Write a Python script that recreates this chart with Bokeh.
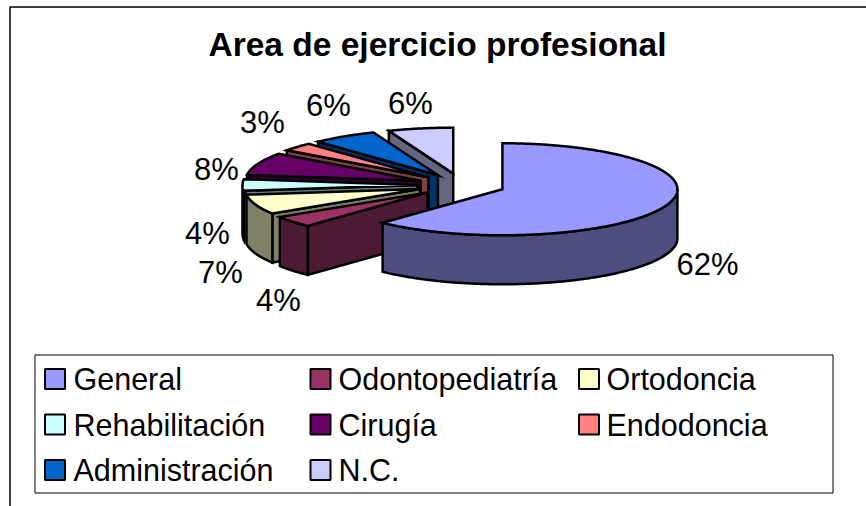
import numpy as np
from bokeh.plotting import figure
from bokeh.models import ColumnDataSource
from bokeh.core.properties import value
from bokeh.embed import file_html
from bokeh.resources import INLINE

TITLE = "Area de ejercicio profesional"
categories = ["General", "Odontopediatría", "Ortodoncia", "Rehabilitación",
              "Cirugía", "Endodoncia", "Administración", "N.C."]
values = [62, 4, 7, 4, 8, 3, 6, 6]
top_colors = ["#9999FF", "#993366", "#FFFFCC", "#CCFFFF",
              "#660066", "#FF8080", "#0066CC", "#CCCCFF"]
wall_colors = ["#4D4D80", "#4D1A33", "#808066", "#668080",
               "#330033", "#804040", "#003366", "#666680"]

W, H = 866, 506
CX, CY, RX, RY = 461.0, 184.5, 175.0, 46.0
EXPLODE, DEPTH = 44.0, 49.0
LABEL_XY = [(707, 264), (278, 300), (220, 272), (207, 233),
            (216, 169), (262, 122), (328, 105), (410, 103)]
LEG_BOX = (34.5, 354.5, 832.5, 492.5)
LEG_COLS = [(54.5, 73), (320, 338), (588.5, 606)]
LEG_ROWS = [378.5, 424, 469.5]

p = figure(width=W, height=H, x_range=(0, W), y_range=(H, 0),
           toolbar_location=None, output_backend="svg", min_border=0,
           outline_line_color=None)
p.axis.visible = False
p.grid.visible = False

# chart frame
p.line([9.5, 9.5, W], [H, 6.5, 6.5], line_color="black", line_width=1.5)

total = sum(values)
edges = np.cumsum([0] + values) / total * 360.0
ell = RY / RX


def arc(ax, ay, a0, a1, drop=0.0):
    t = np.radians(np.linspace(a0, a1, max(2, int(abs(a1 - a0) * 2) + 2)))
    return ax + RX * np.sin(t), ay - RY * np.cos(t) + drop


walls = {"xs": [], "ys": [], "c": []}
order = list(range(len(values)))[::-1]
for i in order:
    a0, a1 = edges[i], edges[i + 1]
    mid = np.radians((a0 + a1) / 2)
    ax = CX + EXPLODE * np.sin(mid)
    ay = CY - EXPLODE * ell * np.cos(mid)
    layers = []
    # radial cut faces
    for a, show in ((a0, np.sin(np.radians(a0)) < -1e-6),
                    (a1, np.sin(np.radians(a1)) > 1e-6)):
        if show:
            ox, oy = arc(ax, ay, a, a)
            layers.append(([ax, ox[0], ox[0], ax],
                           [ay, oy[0], oy[0] + DEPTH, ay + DEPTH], wall_colors[i]))
    # curved outer wall
    v0, v1 = max(a0, 90.0), min(a1, 270.0)
    if v1 > v0:
        tx, ty = arc(ax, ay, v0, v1)
        layers.append((list(tx) + list(tx[::-1]),
                       list(ty) + list((ty + DEPTH)[::-1]), wall_colors[i]))
    # top face
    tx, ty = arc(ax, ay, a0, a1)
    layers.append(([ax] + list(tx), [ay] + list(ty), top_colors[i]))
    for xs, ys, c in layers:
        walls["xs"].append(xs)
        walls["ys"].append(ys)
        walls["c"].append(c)

p.patches("xs", "ys", source=ColumnDataSource(walls), fill_color="c",
          line_color="black", line_width=2.5, line_join="miter")

# title
p.text([437], [44], text=[TITLE], text_font=value("Liberation Sans"),
       text_font_style="bold", text_font_size="33.5px",
       text_align="center", text_baseline="middle", text_color="black")

# percent labels
p.text([q[0] for q in LABEL_XY], [q[1] for q in LABEL_XY],
       text=[f"{v}%" for v in values], text_font=value("Liberation Sans"),
       text_font_size="31px", text_align="center", text_baseline="middle",
       text_color="black")

# legend
l, t, r, b = LEG_BOX
p.line([l, r, r, l, l], [t, t, b, b, t], line_color="black", line_width=1)
sx, sy, tx, ty, fc = [], [], [], [], []
for n in range(len(categories)):
    col = LEG_COLS[n % 3]
    row = LEG_ROWS[n // 3]
    sx.append(col[0]); sy.append(row); tx.append(col[1]); ty.append(row)
    fc.append(top_colors[n])
p.rect(sx, sy, width=20, height=20, fill_color=fc, line_color="black", line_width=2)
p.text(tx, ty, text=categories, text_font=value("Liberation Sans"),
       text_font_size="30.5px", text_align="left", text_baseline="middle",
       text_color="black")

open("out.html", "w").write(file_html(p, INLINE))
